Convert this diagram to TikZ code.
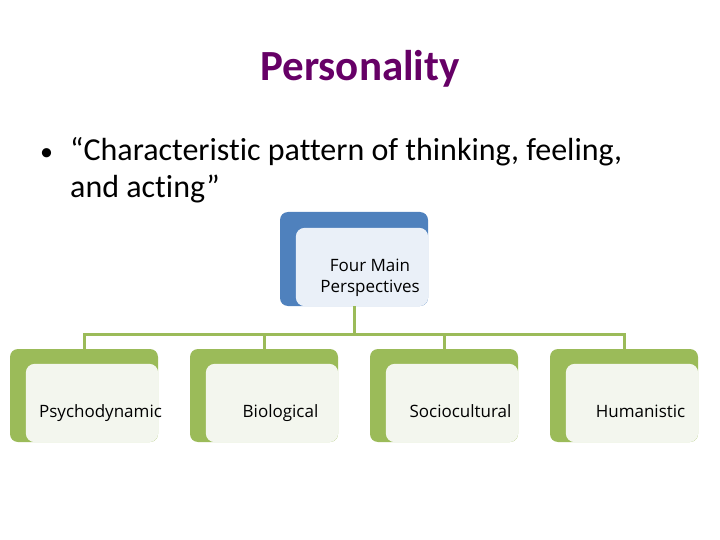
\documentclass[tikz,border=0pt]{standalone}
\usepackage{fontspec}
\setmainfont{Carlito}[RawFeature=-liga]
\newfontfamily\boxfont{Open Sans}
\definecolor{titlepurple}{HTML}{660066}
\definecolor{bluedark}{HTML}{4F81BD}
\definecolor{blueinner}{HTML}{EAF0F8}
\definecolor{greendark}{HTML}{9BBB59}
\definecolor{greeninner}{HTML}{F3F6EE}
\tikzset{
  bluebox/.style={fill=bluedark, rounded corners=8pt, minimum width=148pt, minimum height=94pt, inner sep=0pt},
  greenbox/.style={fill=greendark, rounded corners=8pt, minimum width=148pt, minimum height=93pt, inner sep=0pt},
  boxtext/.style={font=\boxfont\fontsize{17}{21}\selectfont, align=center, inner sep=0pt},
  conn/.style={draw=greendark, line width=3pt},
}
\begin{document}
\begin{tikzpicture}[x=1pt,y=1pt]
\useasboundingbox (0,0) rectangle (720,-540);
\node[font=\fontsize{43}{48}\selectfont\bfseries, text=titlepurple, anchor=base] (title) at (360,-81) {Personality};
\node[font=\fontsize{26}{34}\selectfont, anchor=base west, inner sep=0pt] (bul) at (40,-161) {•};
\node[font=\fontsize{32}{37}\selectfont, anchor=base west, align=left, inner sep=0pt] (body) at (70,-198) {“Characteristic pattern of thinking, feeling,\\and acting”};

% top box
\node[bluebox] (top) at (354,-259) {};
\fill[blueinner, rounded corners=9pt] ([xshift=16pt,yshift=-16pt]top.north west) rectangle (top.south east);
\node[boxtext, anchor=base] (toptext) at (370,-292) {Four Main\\Perspectives};

% bottom boxes
\foreach \i/\x/\t in {1/84/Psychodynamic, 2/264/Biological, 3/444/Sociocultural, 4/624/Humanistic}{
  \node[greenbox] (b\i) at (\x,-395.5) {};
  \fill[greeninner, rounded corners=9pt] ([xshift=16pt,yshift=-15pt]b\i.north west) rectangle (b\i.south east);
  \node[boxtext, anchor=base] (t\i) at (\x+16.5,-417) {\t};
}

\coordinate (bus) at (354,-334);
\draw[conn] (top.south) -- (bus);
\draw[conn] (bus) -| (b1.north);
\draw[conn] (bus) -| (b2.north);
\draw[conn] (bus) -| (b3.north);
\draw[conn] (bus) -| (b4.north);
\end{tikzpicture}
\end{document}
